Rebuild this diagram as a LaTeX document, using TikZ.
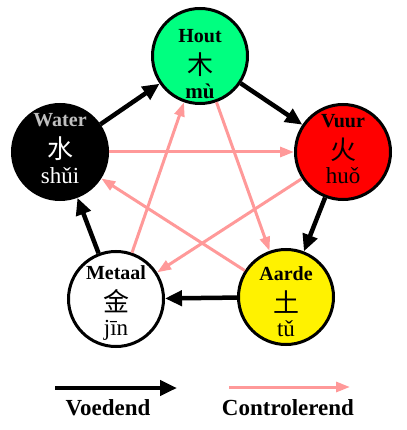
\documentclass[tikz,border=0pt]{standalone}
\usepackage{fontspec}
\setmainfont{Liberation Serif}
\newfontfamily\cjk{Noto Sans CJK SC}
\usepackage{xcolor}
\usetikzlibrary{arrows.meta,positioning}
\definecolor{houtgreen}{HTML}{00FF80}
\definecolor{ctrlpink}{HTML}{FF9999}
\definecolor{watergray}{HTML}{C0C0C0}

\begin{document}
\begin{tikzpicture}[x=1pt,y=-1pt]

\tikzset{
elem/.style={
    circle,
    draw=black,
    line width=3pt,
    minimum size=95pt,
    inner sep=0pt
},
naam/.style={anchor=base,inner sep=0pt,font=\fontsize{20}{22}\selectfont\bfseries},
zi/.style={anchor=center,inner sep=0pt,font=\fontsize{26}{26}\selectfont\cjk},
py/.style={anchor=base,inner sep=0pt,font=\fontsize{23}{24}\selectfont},
legend/.style={anchor=base,font=\fontsize{23}{24}\selectfont\bfseries},
feed/.style={-{Triangle[length=17pt,width=15pt]},line width=4.5pt,black},
ctrl/.style={-{Triangle[length=14pt,width=10pt]},line width=3pt,ctrlpink}
}

\useasboundingbox (0,0) rectangle (406,430);

% de vijf elementen
\foreach \n/\x/\y/\bg/\fg/\lc/\dy/\nm/\zc/\pc in {
  hout/200/56/houtgreen/black/black/7/Hout/木/{\bfseries\fontsize{21}{22}\selectfont mù},
  vuur/343/152/red/black/black/-4/Vuur/火/huǒ,
  aarde/286/297/yellow/black/black/3/Aarde/土/tǔ,
  metaal/116/299/white/black/black/0/Metaal/金/jīn,
  water/60/152/black/white/watergray/-5/Water/水/shǔi}
{
  \node[elem,fill=\bg] (\n) at (\x,\y) {};
  \node[naam,text=\lc] (\n-naam) at (\x,\y+\dy-20) {\nm};
  \node[zi,text=\fg] (\n-zi) at (\x,\y+\dy+2) {\zc};
  \node[py,text=\fg] (\n-py) at (\x,\y+\dy+36) {\pc};
}

% controlerend
\draw[ctrl] (water) -- (vuur);
\draw[ctrl] (vuur) -- (metaal);
\draw[ctrl] (metaal) -- (hout);
\draw[ctrl] (hout) -- (aarde);
\draw[ctrl] (aarde) -- (water);

% voedend
\draw[feed] (hout) -- (vuur);
\draw[feed] (vuur) -- (aarde);
\draw[feed] (aarde) -- (metaal);
\draw[feed] (metaal) -- (water);
\draw[feed] (water) -- (hout);

% legenda
\coordinate (v1) at (55,388);
\coordinate (v2) at (177,388);
\coordinate (c1) at (229,387);
\coordinate (c2) at (350,387);
\draw[feed] (v1) -- (v2);
\draw[ctrl] (c1) -- (c2);
\node[legend] (voedend) at (108,415) {Voedend};
\node[legend] (controlerend) at (288,415) {Controlerend};

\end{tikzpicture}
\end{document}
